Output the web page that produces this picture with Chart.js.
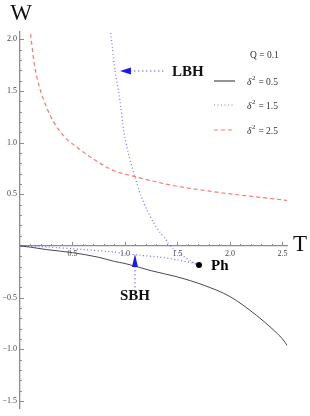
<!DOCTYPE html>
<html>
<head>
<meta charset="utf-8">
<title>W - T</title>
<script src="https://cdn.jsdelivr.net/npm/chart.js"></script>
<style>
  html, body { margin: 0; padding: 0; background: #fff; }
  #box { width: 310px; height: 416px; }
</style>
</head>
<body>
<div id="box"><canvas id="grafico" width="310" height="416"></canvas></div>
<script>
// valori: T sull'asse x, W sull'asse y
var qValue = '0.1';
var deltaValues = ['0.5', '1.5', '2.5'];

// delta^2 = 0.5 (linea continua)
var T05 = [0, 0.1, 0.25, 0.5, 0.75, 0.9, 1.0, 1.25, 1.5, 1.75, 2.0, 2.25, 2.4, 2.5, 2.55];
var W05 = [0, -0.012, -0.035, -0.065, -0.11, -0.15, -0.17, -0.24, -0.30, -0.38, -0.49, -0.67, -0.80, -0.90, -0.97];

// delta^2 = 1.5 (punteggiata): ramo alto fino a Ph, poi ramo basso verso l'origine
var T15 = [0.864, 0.88, 0.905, 0.95, 0.99, 1.04, 1.095, 1.15, 1.207, 1.27, 1.333, 1.38, 1.41, 1.457, 1.55, 1.63, 1.705,
           1.64, 1.5, 1.33, 1.14, 0.98, 0.9, 0.59, 0.27, 0];
var W15 = [2.06, 1.92, 1.695, 1.42, 1.1, 0.86, 0.668, 0.49, 0.353, 0.23, 0.131, 0.075, 0.03, -0.024, -0.095, -0.15, -0.185,
           -0.165, -0.135, -0.108, -0.09, -0.072, -0.06, -0.033, -0.011, 0];

// delta^2 = 2.5 (tratteggiata)
var T25 = [0.1, 0.14, 0.19, 0.25, 0.32, 0.43, 0.55, 0.67, 0.89, 1.1, 1.43, 1.9, 2.2, 2.55];
var W25 = [2.05, 1.74, 1.52, 1.35, 1.20, 1.05, 0.95, 0.86, 0.73, 0.67, 0.59, 0.517, 0.48, 0.44];

// etichette degli assi
var xTicks = [0.5, 1.0, 1.5, 2.0, 2.5];
var yTicks = [-1.5, -1.0, -0.5, 0.5, 1.0, 1.5, 2.0];

// punti notevoli
var puntoPh = { T: 1.705, W: -0.185 };
var puntoLBH = { T: 0.952, W: 1.692 };
var puntoSBH = { T: 1.095, W: -0.078 };

function punti(xs, ys) {
  return xs.map(function (t, i) { return { x: t, y: ys[i] }; });
}

function formattaTick(v) {
  var s = Math.abs(v).toFixed(1);
  return v < 0 ? '\u2212' + s : s;
}

var serif = "'Liberation Serif', 'DejaVu Serif', serif";
var coloreNero = '#4a4a4a';
var coloreBlu = 'rgba(95, 95, 255, 0.85)';
var coloreRosso = 'rgba(255, 95, 95, 0.85)';
var bluFreccia = '#1a1aee';

// disegno tacche, legenda e annotazioni
var annotazioni = {
  id: 'annotazioni',
  afterDraw: function (chart) {
    var ctx = chart.ctx;
    var xs = chart.scales.x, ys = chart.scales.y;
    var area = chart.chartArea;
    var px = function (t) { return xs.getPixelForValue(t); };
    var py = function (w) { return ys.getPixelForValue(w); };
    var x0 = px(0), y0 = py(0);

    ctx.save();
    // tacche minori e maggiori
    ctx.strokeStyle = '#8c8c8c';
    ctx.lineWidth = 1;
    ctx.beginPath();
    for (var k = -15; k <= 20; k++) {
      if (k === 0) continue;
      var len = (k % 5 === 0) ? 4 : 2;
      var yy = Math.round(py(k / 10)) + 0.5;
      ctx.moveTo(x0, yy); ctx.lineTo(x0 + len, yy);
    }
    for (var j = 1; j <= 25; j++) {
      var l2 = (j % 5 === 0) ? 4 : 2;
      var xx = Math.round(px(j / 10)) + 0.5;
      ctx.moveTo(xx, y0); ctx.lineTo(xx, y0 - l2);
    }
    ctx.stroke();

    // nomi degli assi
    ctx.fillStyle = '#111';
    ctx.font = '23px ' + serif;
    ctx.textBaseline = 'middle';
    ctx.textAlign = 'center';
    ctx.fillText('W', 21, 14);
    ctx.fillText('T', area.right + 13, y0 - 1);

    // legenda
    var lx = area.right - 73;
    ctx.textAlign = 'left';
    ctx.fillStyle = '#333';
    ctx.font = '9.5px ' + serif;
    ctx.fillText('Q = ' + qValue, lx + 36, 55);
    var stili = [
      { c: coloreNero, d: [], w: 1.2 },
      { c: coloreBlu, d: [1, 2.5], w: 1.2 },
      { c: coloreRosso, d: [4, 3], w: 1.2 }
    ];
    var righe = [81, 105, 130];
    deltaValues.forEach(function (d, i) {
      var yl = righe[i];
      ctx.strokeStyle = stili[i].c;
      ctx.lineWidth = stili[i].w;
      ctx.setLineDash(stili[i].d);
      ctx.beginPath();
      ctx.moveTo(lx, yl); ctx.lineTo(lx + 21, yl);
      ctx.stroke();
      ctx.setLineDash([]);
      ctx.fillStyle = '#333';
      ctx.font = 'italic 9.5px ' + serif;
      ctx.fillText('\u03b4', lx + 33, yl + 1);
      ctx.font = '7px ' + serif;
      ctx.fillText('2', lx + 38, yl - 3);
      ctx.font = '9.5px ' + serif;
      ctx.fillText(' = ' + d, lx + 42, yl + 1);
    });

    // freccia LBH
    var ax = px(puntoLBH.T), ay = py(puntoLBH.W);
    ctx.strokeStyle = 'rgba(110, 110, 255, 0.8)';
    ctx.lineWidth = 1.4;
    ctx.setLineDash([1.4, 2.6]);
    ctx.beginPath();
    ctx.moveTo(ax + 10, ay); ctx.lineTo(ax + 46, ay);
    ctx.stroke();
    ctx.setLineDash([]);
    ctx.fillStyle = bluFreccia;
    ctx.beginPath();
    ctx.moveTo(ax, ay); ctx.lineTo(ax + 11, ay - 3.5); ctx.lineTo(ax + 11, ay + 3.5);
    ctx.closePath(); ctx.fill();
    ctx.fillStyle = '#111';
    ctx.font = 'bold 15px ' + serif;
    ctx.textAlign = 'left';
    ctx.fillText('LBH', ax + 52, ay + 1);

    // freccia SBH
    var sx = px(puntoSBH.T), sy = py(puntoSBH.W);
    ctx.strokeStyle = 'rgba(110, 110, 255, 0.8)';
    ctx.setLineDash([1.4, 2.6]);
    ctx.beginPath();
    ctx.moveTo(sx, sy + 12); ctx.lineTo(sx, sy + 35);
    ctx.stroke();
    ctx.setLineDash([]);
    ctx.fillStyle = bluFreccia;
    ctx.beginPath();
    ctx.moveTo(sx, sy); ctx.lineTo(sx - 3, sy + 13); ctx.lineTo(sx + 3, sy + 13);
    ctx.closePath(); ctx.fill();
    ctx.fillStyle = '#111';
    ctx.textAlign = 'center';
    ctx.fillText('SBH', sx, sy + 42);

    // punto Ph
    var phx = px(puntoPh.T), phy = py(puntoPh.W);
    ctx.fillStyle = '#000';
    ctx.beginPath();
    ctx.arc(phx, phy, 3, 0, Math.PI * 2);
    ctx.fill();
    ctx.textAlign = 'left';
    ctx.fillText('Ph', phx + 12, phy + 1);
    ctx.restore();
  }
};

var grafico = new Chart(document.getElementById('grafico'), {
  type: 'line',
  data: {
    datasets: [
      { label: '\u03b4\u00b2 = ' + deltaValues[0], data: punti(T05, W05), borderColor: coloreNero, borderWidth: 1, cubicInterpolationMode: 'monotone' },
      { label: '\u03b4\u00b2 = ' + deltaValues[1], data: punti(T15, W15), borderColor: coloreBlu, borderWidth: 1.3, borderDash: [1, 2.5], tension: 0.2 },
      { label: '\u03b4\u00b2 = ' + deltaValues[2], data: punti(T25, W25), borderColor: coloreRosso, borderWidth: 1.2, borderDash: [4, 3], cubicInterpolationMode: 'monotone' }
    ]
  },
  options: {
    responsive: false,
    animation: false,
    elements: { point: { radius: 0 } },
    layout: { padding: { top: 32, right: 23, left: 0, bottom: 0 } },
    plugins: { legend: { display: false }, tooltip: { enabled: false } },
    scales: {
      x: {
        type: 'linear', min: 0, max: 2.543, position: { y: 0 },
        afterBuildTicks: function (s) { s.ticks = xTicks.map(function (v) { return { value: v }; }); },
        grid: { drawOnChartArea: false, drawTicks: false },
        border: { color: '#8c8c8c', width: 1.3 },
        ticks: { padding: 3, maxRotation: 0, color: '#444', font: { family: serif, size: 8 }, callback: formattaTick }
      },
      y: {
        type: 'linear', min: -1.57, max: 2.07, position: 'left',
        afterFit: function (s) { s.width = 20; },
        afterBuildTicks: function (s) { s.ticks = yTicks.map(function (v) { return { value: v }; }); },
        grid: { drawOnChartArea: false, drawTicks: false },
        border: { color: '#8c8c8c', width: 1.3 },
        ticks: { padding: 3, color: '#444', font: { family: serif, size: 8 }, callback: formattaTick }
      }
    }
  },
  plugins: [annotazioni]
});
</script>
</body>
</html>
